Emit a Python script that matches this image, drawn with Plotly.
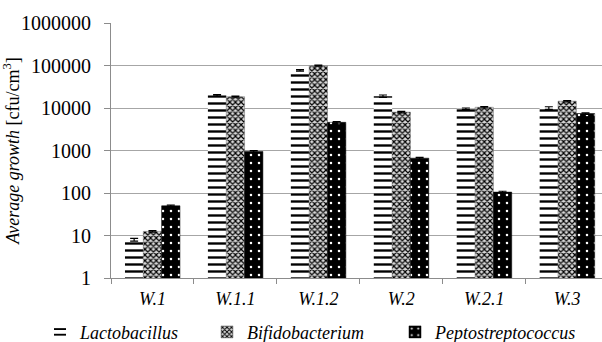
import plotly.graph_objects as go

categories = ["W.1", "W.1.1", "W.1.2", "W.2", "W.2.1", "W.3"]
lacto = [8, 20000, 77000, 19000, 9600, 10000]
bifido = [12.5, 18500, 99000, 8000, 10400, 14500]
pepto = [50, 950, 4600, 660, 105, 7400]
lacto_err = [0.6, 800, 3000, 1200, 400, 700]
bifido_err = [0.5, 600, 3000, 300, 400, 500]
pepto_err = [2, 40, 200, 30, 5, 300]
ytickvals = [1, 10, 100, 1000, 10000, 100000, 1000000]
yticktext = ["1", "10", "100", "1000", "10000", "100000", "1000000"]

serif = "Liberation Serif"

fig = go.Figure()
fig.add_trace(go.Bar(
    name="Lactobacillus", x=categories, y=lacto, showlegend=True,
    error_y=dict(type="data", array=lacto_err, color="black", thickness=1.2, width=4),
    marker=dict(color="white", line=dict(width=0),
                pattern=dict(shape="-", fgcolor="black", bgcolor="white",
                             size=7, solidity=0.34, fillmode="replace")),
    legend="legend",
))
fig.add_trace(go.Bar(
    name="Bifidobacterium", x=categories, y=bifido, showlegend=True,
    error_y=dict(type="data", array=bifido_err, color="black", thickness=1.2, width=4),
    marker=dict(color="white", line=dict(width=0.5, color="#777"),
                pattern=dict(shape="x", fgcolor="black", bgcolor="#d8d8d8",
                             size=4, solidity=0.5, fillmode="replace")),
    legend="legend2",
))
fig.add_trace(go.Bar(
    name="Peptostreptococcus", x=categories, y=pepto, showlegend=True,
    error_y=dict(type="data", array=pepto_err, color="black", thickness=1.2, width=4),
    marker=dict(color="black", line=dict(width=0.5, color="black"),
                pattern=dict(shape=".", fgcolor="white", bgcolor="black",
                             size=8, solidity=0.08, fillmode="replace")),
    legend="legend3",
))

lfont = dict(family=serif, size=18, color="black", style="italic")
legend_common = dict(orientation="h", yanchor="top", y=-0.14,
                     xanchor="left", visible=True, itemwidth=30,
                     font=lfont, bgcolor="rgba(0,0,0,0)", borderwidth=0)

fig.update_layout(
    template="none",
    width=602, height=342, showlegend=True,
    margin=dict(l=111, r=0, t=23, b=64, autoexpand=False),
    paper_bgcolor="white", plot_bgcolor="white",
    barmode="group", bargap=0.337, bargroupgap=0,
    font=dict(family=serif, color="black", size=18),
    legend=dict(legend_common, x=(40 - 111) / 491),
    legend2=dict(legend_common, x=(207 - 111) / 491),
    legend3=dict(legend_common, x=(395 - 111) / 491),
    xaxis=dict(
        type="category", range=[-0.5, 5.42], automargin=False,
        showline=True, linecolor="#8c8c8c", linewidth=1,
        ticks="outside", tickson="boundaries", ticklen=5, tickcolor="#8c8c8c",
        tickfont=dict(family=serif, size=18, color="black", style="italic"),
        ticklabelstandoff=4,
        showgrid=False,
    ),
    yaxis=dict(
        type="log", range=[0, 6], automargin=False,
        tickvals=ytickvals, ticktext=yticktext,
        showline=True, linecolor="#8c8c8c", linewidth=1,
        ticks="outside", ticklen=6, tickcolor="#8c8c8c",
        tickfont=dict(family=serif, size=20, color="black"),
        ticklabelstandoff=9,
        showgrid=True, gridcolor="#a6a6a6", gridwidth=1,
        zeroline=False,
        title=dict(text="<i>Average growth</i> [cfu/cm<sup>3</sup>]",
                   font=dict(family=serif, size=18, color="black"), standoff=2),
    ),
)

fig.write_html("out.html", config={"displayModeBar": False},
               post_script="document.body.style.margin='0';document.body.style.overflow='hidden';")
